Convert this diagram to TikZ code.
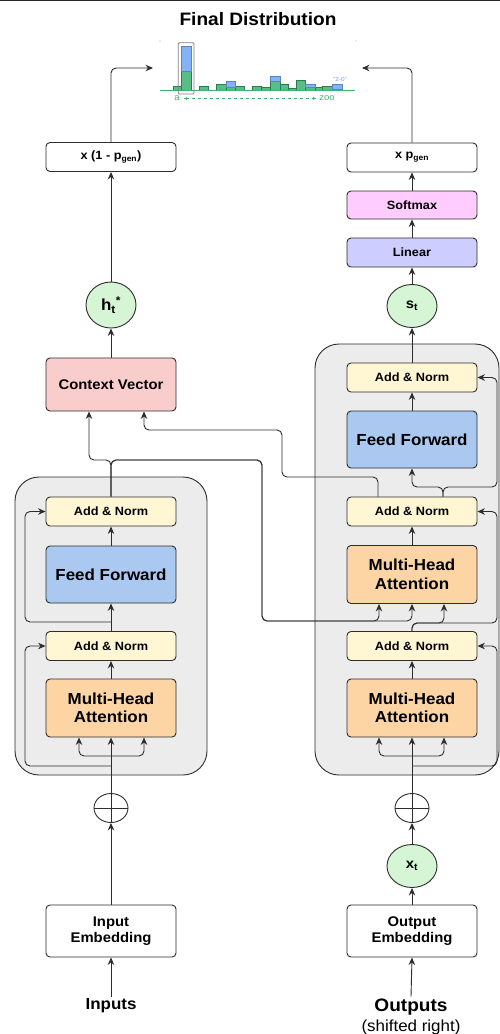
\documentclass[tikz,border=0pt]{standalone}
\usepackage{fontspec}
\setmainfont{Liberation Sans}[FakeStretch=1.06]
\usetikzlibrary{arrows.meta,shapes.geometric,calc}
\definecolor{anfill}{RGB}{255,246,212}
\definecolor{fffill}{RGB}{170,200,240}
\definecolor{mhafill}{RGB}{253,213,165}
\definecolor{ctxfill}{RGB}{250,205,205}
\definecolor{smfill}{RGB}{255,204,255}
\definecolor{linfill}{RGB}{205,205,255}
\definecolor{circfill}{RGB}{213,245,213}
\definecolor{blkfill}{RGB}{236,236,236}
\definecolor{hgreen}{RGB}{60,179,113}
\definecolor{hblue}{RGB}{110,165,245}
\definecolor{lncol}{RGB}{45,45,45}
\newcommand{\fsz}[2]{\fontsize{#1}{#2}\selectfont}
\tikzset{
  bx/.style={draw=lncol, line width=0.9pt, rounded corners=4pt, align=center, inner sep=0pt},
  an/.style={bx, fill=anfill, minimum width=130pt, minimum height=29pt, font=\fsz{12}{14}\bfseries},
  ffs/.style={bx, fill=fffill, minimum width=130pt, minimum height=57pt, font=\fsz{16}{18.5}\bfseries},
  mhas/.style={bx, fill=mhafill, minimum width=130pt, minimum height=58pt, font=\fsz{16}{18.5}\bfseries},
  ctxs/.style={bx, fill=ctxfill, minimum width=130pt, minimum height=53pt, font=\fsz{14}{16}\bfseries},
  wbox/.style={bx, fill=white, minimum width=130pt, minimum height=29pt, font=\fsz{12}{14}\bfseries},
  smx/.style={bx, fill=smfill, minimum width=130pt, minimum height=28pt, font=\fsz{12}{14}\bfseries},
  lins/.style={bx, fill=linfill, minimum width=130pt, minimum height=29pt, font=\fsz{12}{14}\bfseries},
  emb/.style={bx, fill=white, minimum width=130pt, minimum height=52pt, font=\fsz{14}{16}\bfseries},
  circ/.style={ellipse, draw=lncol, line width=0.9pt, fill=circfill, minimum width=50pt, minimum height=46pt, inner sep=0pt, font=\fsz{16}{18}\bfseries},
  circs/.style={circ, minimum height=43pt, font=\fsz{14}{16}\bfseries},
  plus/.style={ellipse, draw=lncol, line width=0.9pt, fill=white, minimum width=34pt, minimum height=29pt, inner sep=0pt},
  lbl/.style={inner sep=2pt, font=\fsz{16}{18}\bfseries},
  grayblk/.style={draw=lncol, line width=0.9pt, fill=blkfill, rounded corners=24pt},
  ln/.style={draw=lncol, line width=0.9pt, rounded corners=5pt},
  arr/.style={ln, -{Stealth[length=7.5pt,width=6.5pt,inset=2.5pt]}},
}
\begin{document}
\begin{tikzpicture}[x=1pt,y=-1pt]
\useasboundingbox (0,0) rectangle (500,1034);
\fill[white] (0,0) rectangle (500,1034);
\draw[black!85, line width=1.3pt] (0,0.8) -- (500,0.8);

% gray blocks
\draw[grayblk] (15,477) rectangle (207,775);
\draw[grayblk] (315,344) rectangle (499,775);

% ---------- title and histogram ----------
\node[font=\fsz{18}{20}\bfseries] (title) at (258,19) {Final Distribution};
\fill[gray!60] (160,41) circle (0.7pt) (356,41) circle (0.7pt);
\foreach \a/\b/\t in {173.3/181.7/86, 181.7/191/71.7, 199.3/208.3/86, 216.7/226/84, 226/235/87.3, 235/244/86, 252.7/261.7/86, 261.7/270/87.3, 270/280/81, 280/288.3/84, 288.3/296.7/88.3, 296.7/305.7/80, 305.7/315/87.3, 315/322.7/87.3, 322.7/332.3/86, 332.3/342.3/89}
  \filldraw[fill=hgreen!85, draw=hgreen!70!black, line width=0.5pt] (\a,90.7) rectangle (\b,\t);
\foreach \a/\b/\t/\u in {181.7/191/46/71.7, 226/235/81.7/87.3, 270/280/76.7/81, 305.7/315/84.3/87.3, 332.3/342.3/84.3/89}
  \filldraw[fill=hblue!85, draw=hblue!80!black, line width=0.5pt] (\a,\u) rectangle (\b,\t);
\draw[hgreen, line width=1pt] (160,90.7) -- (355,90.7);
\draw[gray, line width=0.8pt, rounded corners=1pt] (178.3,42.7) rectangle (194,94);
\node[text=hgreen, font=\fsz{9}{10}, inner sep=1pt] (ha) at (177,98.5) {a};
\node[text=hgreen, font=\fsz{9}{10}, inner sep=1pt] (hz) at (327,98.5) {zoo};
\draw[hgreen, dashed, line width=0.7pt, {Stealth[length=3.5pt,width=3pt]}-{Stealth[length=3.5pt,width=3pt]}] ([xshift=3pt]ha.east) -- ([xshift=-2pt]hz.west);
\node[text=hblue, font=\fsz{6}{7}, inner sep=0pt] (h20) at (340,79.5) {"2-0"};
\coordinate (hl) at (153,68);
\coordinate (hr) at (362,68);

% ---------- encoder ----------
\node[wbox] (x1p) at (111,157) {x (1 - p\textsubscript{gen})};
\node[circ] (ht) at (111,305) {h\textsubscript{t}\textsuperscript{*}};
\node[ctxs] (ctx) at (111,384.5) {Context Vector};
\node[an] (ean2) at (111,511.5) {Add \& Norm};
\node[ffs] (eff) at (111,574.5) {Feed Forward};
\node[an] (ean1) at (111,646) {Add \& Norm};
\node[mhas] (emha) at (111,708) {Multi-Head\\Attention};
\node[plus] (eplus) at (111,808) {};
\node[emb] (iemb) at (111,931) {Input\\Embedding};
\node[lbl] (inp) at (111,1006) {Inputs};

% ---------- decoder ----------
\node[wbox] (xpg) at (412,157.5) {x p\textsubscript{gen}};
\node[smx] (soft) at (412,205) {Softmax};
\node[lins] (lin) at (412,252.5) {Linear};
\node[circs] (st) at (412,306) {s\textsubscript{t}};
\node[an] (dan3) at (412,377.5) {Add \& Norm};
\node[ffs] (dff) at (412,439.5) {Feed Forward};
\node[an] (dan2) at (412,511.5) {Add \& Norm};
\node[mhas] (dmha2) at (412,574.5) {Multi-Head\\Attention};
\node[an] (dan1) at (412,646) {Add \& Norm};
\node[mhas] (dmha1) at (412,708) {Multi-Head\\Attention};
\node[plus] (dplus) at (412,808) {};
\node[circs] (xt) at (412,866) {x\textsubscript{t}};
\node[emb] (oemb) at (412,931) {Output\\Embedding};
\node[lbl, font=\fsz{18}{20}\bfseries] (outp) at (411,1007) {Outputs};
\node[inner sep=1pt, font=\fsz{16}{18}] (shr) at (411,1027) {(shifted right)};

% plus signs
\draw[ln] (eplus.north) -- (eplus.south) (eplus.west) -- (eplus.east);
\draw[ln] (dplus.north) -- (dplus.south) (dplus.west) -- (dplus.east);

% ---------- encoder connectors ----------
\draw[arr] (inp.north) -- (iemb.south);
\draw[arr] (iemb.north) -- (eplus.south);
\draw[arr] (eplus.north) -- (emha.south);
\coordinate (eb) at (111,756);
\draw[arr] (eb) -| ([xshift=-32pt]emha.south);
\draw[arr] (eb) -| ([xshift=33pt]emha.south);
\draw[arr] (111,766) -| (25,646) -- (ean1.west);
\draw[arr] (emha.north) -- (ean1.south);
\draw[arr] (ean1.north) -- (eff.south);
\draw[arr] (111,622) -| (25,511.5) -- (ean2.west);
\draw[arr] (eff.north) -- (ean2.south);
\coordinate (ebr) at (111,460);
\draw[arr] (ean2.north) -- (ebr) -| ([xshift=-22pt]ctx.south);
\draw[arr] (ean2.north) -- (ebr) -- (262,460) -- (262,621) -| ([xshift=-33pt]dmha2.south);
\draw[arr] (ean2.north) -- (ebr) -- (262,460) -- (262,621) -| (dmha2.south);
\draw[arr] (ctx.north) -- (ht.south);
\draw[arr] (ht.north) -- (x1p.south);
\draw[arr] (x1p.north) |- (hl);

% ---------- decoder connectors ----------
\draw[arr] (outp.north) -- (oemb.south);
\draw[arr] (oemb.north) -- (xt.south);
\draw[arr] (xt.north) -- (dplus.south);
\draw[arr] (dplus.north) -- (dmha1.south);
\coordinate (db) at (412,756);
\draw[arr] (db) -| ([xshift=-33pt]dmha1.south);
\draw[arr] (db) -| ([xshift=32pt]dmha1.south);
\draw[arr] (412,766) -| (497,646) -- (dan1.east);
\draw[arr] (dmha1.north) -- (dan1.south);
\draw[arr] (dan1.north) -- (412,623) -| ([xshift=32pt]dmha2.south);
\draw[arr] (dan1.north) -- (412,623) -| (497,511.5) -- (dan2.east);
\draw[arr] (dmha2.north) -- (dan2.south);
\draw[arr] ([xshift=-34pt]dan2.north) -- (378,477) -- (282,477) -- (282,430) -| ([xshift=33pt]ctx.south);
\draw[arr] ([xshift=31pt]dan2.north) -- (443,487) -| (dff.south);
\draw[arr] ([xshift=31pt]dan2.north) -- (443,487) -| (497,377.5) -- (dan3.east);
\draw[arr] (dff.north) -- (dan3.south);
\draw[arr] (dan3.north) -- (st.south);
\draw[arr] (st.north) -- (lin.south);
\draw[arr] (lin.north) -- (soft.south);
\draw[arr] (soft.north) -- (xpg.south);
\draw[arr] (xpg.north) |- (hr);
\end{tikzpicture}
\end{document}
